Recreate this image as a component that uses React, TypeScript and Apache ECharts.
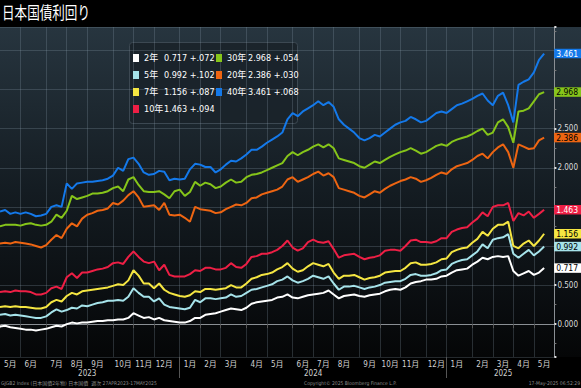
import React, { useEffect, useRef } from "react";
import * as echarts from "echarts";

// Weekly (Friday) observation dates, 2023-05-05 .. 2025-05-16, plus two empty slots on the right
const START_UTC = Date.UTC(2023, 4, 5);
const N_WEEKS = 107;
const N_PAD = 2;
const weekDates: string[] = [];
for (let i = 0; i < N_WEEKS + N_PAD; i++) {
  weekDates.push(new Date(START_UTC + i * 7 * 86400000).toISOString().slice(0, 10));
}

const names = ["2年", "5年", "7年", "10年", "30年", "20年", "40年"];
const colors = ["#ffffff", "#a6e3ea", "#f5e642", "#ee1f45", "#86c51a", "#ee6512", "#1479ea"];
const tagText = ["#000", "#000", "#000", "#fff", "#000", "#000", "#fff"];
const lastVal = ["0.717", "0.992", "1.156", "1.463", "2.968", "2.386", "3.461"];
const weekChg = ["+.072", "+.102", "+.087", "+.094", "+.054", "+.030", "+.068"];
// axis labels hidden behind the value tags in the reference
const hiddenTicks = [3.5, 3.0, 1.5, 1.0];

const y2 = [
  -0.03, -0.02, -0.04, -0.05, -0.06, -0.07, -0.07, -0.08, -0.07, -0.06, -0.04, -0.02, -0.03,
  0.0, 0.02, 0.01, 0.02, 0.02, 0.03, 0.04, 0.04, 0.05, 0.05, 0.06, 0.06, 0.08,
  0.14, 0.11, 0.08, 0.09, 0.06, 0.08, 0.05, 0.04, 0.03, 0.02, 0.02, 0.04, 0.08,
  0.08, 0.12, 0.13, 0.14, 0.16, 0.18, 0.2, 0.19, 0.18, 0.21, 0.26, 0.28, 0.29, 0.3, 0.31, 0.34,
  0.35, 0.38, 0.34, 0.33, 0.35, 0.37, 0.38, 0.39, 0.4, 0.43, 0.38, 0.33, 0.36, 0.37, 0.38, 0.36,
  0.35, 0.37, 0.38, 0.39, 0.42, 0.44, 0.45, 0.44, 0.47, 0.52, 0.54, 0.55, 0.57, 0.57, 0.58, 0.61,
  0.62, 0.66, 0.69, 0.7, 0.71, 0.76, 0.8, 0.85, 0.83, 0.86, 0.87, 0.86, 0.87, 0.68, 0.62, 0.65, 0.68, 0.63, 0.66, 0.717,
];
const y5 = [
  0.12, 0.13, 0.11, 0.12, 0.11, 0.1, 0.09, 0.08, 0.08, 0.1, 0.15, 0.19, 0.16,
  0.18, 0.21, 0.2, 0.24, 0.23, 0.25, 0.27, 0.28, 0.3, 0.3, 0.31, 0.3, 0.35,
  0.46, 0.4, 0.35, 0.35, 0.29, 0.33, 0.25, 0.22, 0.21, 0.2, 0.19, 0.21, 0.31,
  0.28, 0.33, 0.33, 0.32, 0.33, 0.34, 0.38, 0.35, 0.36, 0.4, 0.44, 0.45, 0.47, 0.49, 0.51, 0.55,
  0.57, 0.61, 0.56, 0.53, 0.55, 0.58, 0.62, 0.6, 0.58, 0.61, 0.52, 0.44, 0.48, 0.48, 0.49, 0.47,
  0.45, 0.47, 0.48, 0.5, 0.53, 0.54, 0.55, 0.55, 0.58, 0.63, 0.64, 0.62, 0.62, 0.63, 0.65, 0.69,
  0.7, 0.77, 0.8, 0.82, 0.83, 0.88, 0.93, 1.02, 0.97, 1.08, 1.1, 1.11, 1.15, 0.9, 0.85, 0.9, 0.95, 0.88, 0.93, 0.992,
];
const y7 = [
  0.22, 0.23, 0.22, 0.23, 0.22, 0.22, 0.21, 0.2, 0.2, 0.22, 0.28, 0.31, 0.29,
  0.36, 0.4, 0.38, 0.42, 0.43, 0.44, 0.45, 0.46, 0.47, 0.49, 0.51, 0.5, 0.56,
  0.69, 0.62, 0.52, 0.52, 0.46, 0.52, 0.44, 0.4, 0.38, 0.36, 0.35, 0.37, 0.42,
  0.41, 0.45, 0.45, 0.44, 0.45, 0.46, 0.5, 0.47, 0.47, 0.52, 0.58, 0.6, 0.63, 0.64, 0.66, 0.7,
  0.73, 0.78, 0.71, 0.67, 0.69, 0.74, 0.78, 0.76, 0.74, 0.77, 0.66, 0.58, 0.62, 0.62, 0.63, 0.6,
  0.57, 0.59, 0.6, 0.62, 0.66, 0.67, 0.68, 0.68, 0.72, 0.78, 0.79, 0.76, 0.76, 0.77, 0.79, 0.83,
  0.84, 0.92, 0.95, 0.97, 0.98, 1.04, 1.09, 1.18, 1.13, 1.22, 1.27, 1.27, 1.31, 1.0, 0.97, 1.03, 1.07, 1.0, 1.07, 1.156,
];
const y10 = [
  0.41, 0.42, 0.41, 0.43, 0.42, 0.42, 0.41, 0.38, 0.38, 0.4, 0.46, 0.48, 0.45,
  0.6, 0.65, 0.59, 0.66, 0.66, 0.68, 0.7, 0.71, 0.73, 0.78, 0.79, 0.77, 0.86,
  0.93, 0.86, 0.8, 0.78, 0.8, 0.69, 0.76, 0.63, 0.61, 0.61, 0.61, 0.64, 0.69,
  0.68, 0.72, 0.72, 0.7, 0.7, 0.72, 0.78, 0.73, 0.72, 0.77, 0.86, 0.87, 0.9, 0.9, 0.92, 0.95,
  1.0, 1.07, 0.98, 0.94, 0.97, 1.05, 1.08, 1.05, 1.04, 1.06, 0.96, 0.85, 0.88, 0.89, 0.9, 0.86,
  0.83, 0.85, 0.86, 0.88, 0.94, 0.95, 0.95, 0.94, 1.0, 1.07, 1.08, 1.05, 1.05, 1.04, 1.06, 1.1,
  1.1, 1.18, 1.21, 1.23, 1.24, 1.3, 1.35, 1.43, 1.38, 1.5, 1.52, 1.52, 1.55, 1.32, 1.42, 1.39, 1.44, 1.36, 1.41, 1.463,
];
const y30 = [
  1.25, 1.27, 1.27, 1.27, 1.26, 1.28, 1.29, 1.27, 1.26, 1.27, 1.31, 1.4, 1.36,
  1.45, 1.64, 1.6, 1.62, 1.64, 1.67, 1.67, 1.68, 1.7, 1.74, 1.76, 1.7, 1.85,
  1.88, 1.78, 1.7, 1.69, 1.69, 1.7, 1.66, 1.61, 1.7, 1.72, 1.64, 1.69, 1.82,
  1.77, 1.81, 1.79, 1.74, 1.76, 1.81, 1.85, 1.81, 1.82, 1.88, 1.91, 1.92, 1.94, 1.97, 2.0, 2.03,
  2.06, 2.15, 2.2, 2.16, 2.2, 2.23, 2.27, 2.3, 2.26, 2.3, 2.25, 2.12, 2.1, 2.08, 2.06, 2.02,
  2.0, 2.04, 2.08, 2.06, 2.1, 2.14, 2.17, 2.2, 2.22, 2.25, 2.22, 2.18, 2.2, 2.24, 2.28, 2.3,
  2.28, 2.33, 2.36, 2.38, 2.4, 2.43, 2.47, 2.5, 2.42, 2.45, 2.58, 2.62, 2.52, 2.32, 2.72, 2.73, 2.76, 2.85, 2.94, 2.968,
];
const y20 = [
  1.03, 1.04, 1.03, 1.05, 1.04, 1.03, 1.02, 1.0, 0.98, 1.01, 1.08, 1.14, 1.1,
  1.22, 1.29, 1.25, 1.35, 1.4, 1.42, 1.45, 1.46, 1.48, 1.55, 1.53, 1.58, 1.65,
  1.7, 1.62, 1.5, 1.51, 1.52, 1.46, 1.55, 1.4, 1.39, 1.4, 1.36, 1.31, 1.5,
  1.47, 1.46, 1.45, 1.42, 1.43, 1.47, 1.5, 1.53, 1.52, 1.55, 1.61, 1.62, 1.66, 1.68, 1.7, 1.72,
  1.76, 1.85, 1.88, 1.82, 1.85, 1.88, 1.92, 1.95, 1.9, 1.93, 1.88, 1.74, 1.72, 1.7, 1.68, 1.64,
  1.62, 1.66, 1.7, 1.68, 1.73, 1.77, 1.8, 1.83, 1.85, 1.88, 1.86, 1.82, 1.84, 1.87, 1.91, 1.94,
  1.92, 1.98, 2.02, 2.04, 2.06, 2.1, 2.15, 2.18, 2.12, 2.2, 2.26, 2.3, 2.2, 2.0, 2.3, 2.27, 2.24, 2.25, 2.35, 2.386,
];
const y40 = [
  1.44, 1.46, 1.41, 1.43, 1.41, 1.43, 1.41, 1.38, 1.39, 1.41, 1.5, 1.52, 1.5,
  1.8, 1.73, 1.8, 1.81, 1.82, 1.82, 1.83, 1.84, 1.86, 1.9, 2.0, 1.96, 2.11,
  2.13, 2.05, 1.94, 1.91, 1.92, 1.96, 1.95, 1.84, 1.86, 1.85, 1.86, 1.98, 2.05,
  2.04, 2.01, 2.01, 1.94, 1.98, 2.04, 2.09, 2.08, 2.12, 2.17, 2.23, 2.23, 2.27, 2.32, 2.36, 2.4,
  2.45, 2.62, 2.7, 2.66, 2.72, 2.76, 2.8, 2.85, 2.8, 2.84, 2.78, 2.62, 2.55, 2.5, 2.45, 2.38,
  2.35, 2.38, 2.42, 2.4, 2.45, 2.5, 2.55, 2.58, 2.6, 2.65, 2.62, 2.58, 2.6, 2.65, 2.7, 2.72,
  2.7, 2.75, 2.8, 2.82, 2.85, 2.88, 2.92, 2.95, 2.86, 2.8, 2.92, 2.96, 2.8, 2.58, 3.06, 3.1, 3.13, 3.22, 3.38, 3.461,
];
const seriesValues = [y2, y5, y7, y10, y30, y20, y40];

const footerLeft = "GJGB2 Index (日本国債2年物) 日本国債  週次 27APR2023-17MAY2025";
const footerMid = "Copyright© 2025 Bloomberg Finance L.P.";
const footerRight = "17-May-2025 06:52:29";

const NARROW = "'Liberation Sans Narrow','DejaVu Sans Condensed','Liberation Sans','Noto Sans CJK JP',sans-serif";

function monthOf(i: number) {
  return weekDates[i].slice(0, 7);
}
const monthStart = new Set<number>();
const monthMid = new Set<number>();
const yearStart = new Set<number>();
const yearMid = new Set<number>();
{
  let a = 0;
  for (let i = 1; i <= weekDates.length; i++) {
    if (i === weekDates.length || monthOf(i) !== monthOf(a)) {
      monthStart.add(a);
      monthMid.add(Math.round((a + i - 1) / 2));
      a = i;
    }
  }
  let b = 0;
  for (let i = 1; i <= weekDates.length; i++) {
    if (i === weekDates.length || weekDates[i].slice(0, 4) !== weekDates[b].slice(0, 4)) {
      if (b > 0) yearStart.add(b);
      yearMid.add(Math.round((b + i - 1) / 2));
      b = i;
    }
  }
}

export default function App() {
  const ref = useRef<HTMLDivElement>(null);
  useEffect(() => {
    document.body.style.margin = "0";
    document.body.style.background = "#000";
    const chart = echarts.init(ref.current!, null, { renderer: "svg" });
    const gridColor = "rgba(140,160,175,0.26)";

    const series = names.map((n, k) => ({
      name: n,
      type: "line",
      data: seriesValues[k],
      symbol: "none",
      z: 3 + k,
      lineStyle: { width: 2, color: colors[k] },
      itemStyle: { color: colors[k] },
      endLabel: {
        show: true,
        distance: 10,
        formatter: (p: any) => Number(p.value).toFixed(3),
        backgroundColor: colors[k],
        color: tagText[k],
        fontSize: 8.5,
        fontFamily: NARROW,
        padding: [1, 3, 0, 2],
      },
    }));

    const FS = 9;
    const legendFmt = (name: string) => {
      const k = names.indexOf(name);
      return `{n|${name}}{v|${lastVal[k]} ${weekChg[k]}}`;
    };
    const legendText = (w: number) => ({
      color: "#ffffff",
      fontSize: FS,
      fontFamily: NARROW,
      lineHeight: 14,
      rich: {
        n: { width: w, color: "#fff", fontSize: FS, fontFamily: NARROW },
        v: { color: "#fff", fontSize: FS, fontFamily: NARROW },
      },
    });

    chart.setOption({
      animation: false,
      backgroundColor: "transparent",
      grid: { left: 0, right: 20, top: 27, bottom: 31, containLabel: false },
      xAxis: [
        {
          type: "category",
          data: weekDates,
          boundaryGap: false,
          position: "bottom",
          axisLine: { show: true, lineStyle: { color: "#8a8f94", width: 1 } },
          axisTick: {
            show: true,
            length: 4,
            interval: (i: number) => monthStart.has(i),
            lineStyle: { color: "#555" },
          },
          axisLabel: {
            interval: (i: number) => monthMid.has(i),
            formatter: (v: string) => `${Number(v.slice(5, 7))}月`,
            color: "#d0d0d0",
            fontSize: 8,
            fontFamily: NARROW,
            margin: 3,
          },
          splitLine: {
            show: true,
            interval: (i: number) => monthStart.has(i) && i > 0,
            lineStyle: { color: gridColor, width: 1 },
          },
        },
        {
          type: "category",
          data: weekDates,
          boundaryGap: false,
          position: "bottom",
          axisLine: { show: false },
          axisTick: {
            show: true,
            length: 21,
            interval: (i: number) => yearStart.has(i),
            lineStyle: { color: "#555" },
          },
          axisLabel: {
            interval: (i: number) => yearMid.has(i),
            formatter: (v: string) => v.slice(0, 4),
            color: "#d0d0d0",
            fontSize: 8,
            fontFamily: NARROW,
            margin: 12,
          },
          splitLine: { show: false },
        },
      ],
      yAxis: {
        type: "value",
        position: "right",
        min: -0.42,
        max: 3.8,
        splitNumber: 8,
        axisLine: { show: true, lineStyle: { color: "#8a8f94" } },
        axisTick: { show: true, length: 2, lineStyle: { color: "#ddd", width: 2 } },
        minorTick: { show: true, splitNumber: 2, length: 2, lineStyle: { color: "#777" } },
        axisLabel: {
          showMinLabel: false,
          showMaxLabel: false,
          formatter: (v: number) =>
            hiddenTicks.some((h) => Math.abs(h - v) < 1e-6) ? "" : v.toFixed(3),
          color: "#dcdcdc",
          fontSize: 8,
          fontFamily: NARROW,
          margin: 3,
        },
        splitLine: { show: true, lineStyle: { color: gridColor, width: 1 } },
      },
      legend: [
        {
          data: names.slice(0, 4),
          orient: "vertical",
          left: 133,
          top: 51,
          padding: 0,
          itemGap: 3,
          itemWidth: 6,
          itemHeight: 8,
          icon: "rect",
          selectedMode: false,
          formatter: legendFmt,
          textStyle: legendText(20),
        },
        {
          data: names.slice(4),
          orient: "vertical",
          left: 216,
          top: 51,
          padding: 0,
          itemGap: 3,
          itemWidth: 6,
          itemHeight: 8,
          icon: "rect",
          selectedMode: false,
          formatter: legendFmt,
          textStyle: legendText(21),
        },
      ],
      graphic: [
        {
          type: "rect",
          z: -1,
          shape: { x: 129.5, y: 42.5, width: 168, height: 81, r: 3 },
          style: { fill: "rgba(26,35,42,0.92)", stroke: "#3c4852", lineWidth: 1 },
        },
        {
          type: "text",
          x: 2,
          y: 3,
          scaleX: 0.74,
          style: {
            text: "日本国債利回り",
            fill: "#ffffff",
            fontSize: 17,
            fontFamily: "'Noto Sans CJK JP',sans-serif",
          },
        },
        {
          type: "text",
          x: 1,
          y: 380,
          style: { text: footerLeft, fill: "#8a8a8a", fontSize: 5, fontFamily: NARROW },
        },
        {
          type: "text",
          x: 304,
          y: 380,
          style: { text: footerMid, fill: "#8a8a8a", fontSize: 5, fontFamily: NARROW },
        },
        {
          type: "text",
          right: 1,
          y: 380,
          style: { text: footerRight, fill: "#8a8a8a", fontSize: 5, fontFamily: NARROW },
        },
      ],
      series,
    });
    return () => chart.dispose();
  }, []);

  return (
    <div
      ref={ref}
      style={{
        width: 581,
        height: 388,
        background:
          "linear-gradient(to bottom, #000 0px, #000 27px, #27353f 27px, #141c22 190px, #050607 357px, #000 357px)",
      }}
    />
  );
}
